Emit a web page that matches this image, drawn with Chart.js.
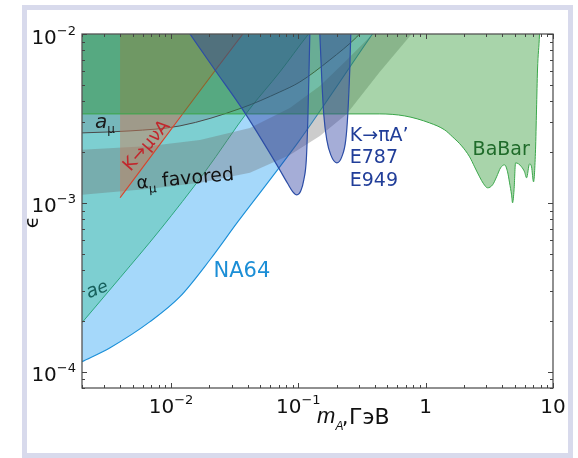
<!DOCTYPE html>
<html>
<head>
<meta charset="utf-8">
<script src="https://cdn.jsdelivr.net/npm/chart.js@4.4.1/dist/chart.umd.min.js"></script>
<style>
    html, body { margin: 0; padding: 0; background: #fff; }
    #frame { position: absolute; left: 22px; top: 5px; width: 541px; height: 443px; border: 5px solid #d8daec; }
    #limitsChart { position: absolute; left: 0; top: 0; }
</style>
</head>
<body>
<div id="frame"></div>
<canvas id="limitsChart" width="578" height="458"></canvas>
<script>
// NA64 limit (lower edge of the light blue area)
const na64Mass = [0.002, 0.003327, 0.006846, 0.01176, 0.02023, 0.03353, 0.05977, 0.1028, 0.2116, 0.3772, 0.4355];
const na64Eps  = [1.146e-4, 1.387e-4, 1.977e-4, 2.78e-4, 4.60e-4, 7.73e-4, 1.368e-3, 2.36e-3, 5.20e-3, 9.87e-3, 1.146e-2];

// a_e exclusion
const aeMass = [0.002, 0.003981, 0.0082, 0.01848, 0.0409, 0.07161, 0.1187, 0.1422];
const aeEps  = [1.95e-4, 3.60e-4, 6.92e-4, 1.526e-3, 3.55e-3, 5.96e-3, 9.87e-3, 1.162e-2];

// a_mu exclusion
const amuMass = [0.002, 0.00477, 0.01176, 0.03604, 0.07161, 0.1028, 0.1767, 0.2876, 0.3323];
const amuEps  = [2.596e-3, 2.667e-3, 2.855e-3, 3.649e-3, 4.537e-3, 5.20e-3, 7.02e-3, 9.60e-3, 1.085e-2];

// a_mu favored band, lower and upper edges
const favLowMass  = [0.002, 0.006846, 0.01689, 0.04165, 0.08577, 0.1475, 0.2401, 0.4356, 0.7765, 0.8972];
const favLowEps   = [1.115e-3, 1.21e-3, 1.313e-3, 1.505e-3, 1.923e-3, 2.49e-3, 3.362e-3, 5.96e-3, 1.0e-2, 1.146e-2];
const favHighMass = [0.002, 0.006846, 0.01689, 0.04165, 0.08577, 0.1475, 0.2316, 0.384, 0.4437];
const favHighEps  = [2.059e-3, 2.174e-3, 2.359e-3, 2.778e-3, 3.649e-3, 4.925e-3, 6.83e-3, 1.0e-2, 1.146e-2];

// K -> mu nu A
const kmuMass = [0.003981, 0.0367, 0.0417];
const kmuEps  = [1.071e-3, 1.0e-2, 1.131e-2];

// BaBar
const babarMass = [0.002, 0.4356, 0.6844, 1.075, 1.409, 1.628, 1.916, 2.214, 2.423, 2.652, 2.85, 3.064, 3.354, 3.605, 3.875, 4.165, 4.397, 4.559, 4.727, 4.813, 4.945, 5.081, 5.363, 5.661, 5.976, 6.197, 6.543, 6.783, 7.033, 7.291, 7.424, 7.557, 7.838, 7.88];
const babarEps  = [3.362e-3, 3.362e-3, 3.271e-3, 2.974e-3, 2.704e-3, 2.458e-3, 2.174e-3, 1.872e-3, 1.633e-3, 1.425e-3, 1.296e-3, 1.227e-3, 1.278e-3, 1.425e-3, 1.611e-3, 1.678e-3, 1.526e-3, 1.313e-3, 1.115e-3, 1.0e-3, 1.194e-3, 1.725e-3, 1.701e-3, 1.633e-3, 1.526e-3, 1.406e-3, 1.701e-3, 1.633e-3, 1.331e-3, 2.059e-3, 3.55e-3, 6.12e-3, 1.0e-2, 1.131e-2];

// K -> pi A' (E787 / E949), two dips
const e787aMass = [0.01311, 0.01409, 0.02214, 0.0367, 0.06782, 0.08272, 0.09055, 0.09732, 0.1046, 0.1104, 0.1155, 0.1187, 0.1209, 0.1231, 0.1238];
const e787aEps  = [1.085e-2, 1.0e-2, 6.12e-3, 3.55e-3, 1.678e-3, 1.296e-3, 1.162e-3, 1.115e-3, 1.178e-3, 1.368e-3, 1.796e-3, 3.097e-3, 5.34e-3, 1.0e-2, 1.15e-2];
const e787bMass = [0.1461, 0.1475, 0.1529, 0.1585, 0.1673, 0.1798, 0.2004, 0.2194, 0.2358, 0.2444, 0.2534, 0.2581, 0.2595];
const e787bEps  = [1.131e-2, 1.0e-2, 5.34e-3, 3.316e-3, 2.359e-3, 1.923e-3, 1.725e-3, 1.872e-3, 2.359e-3, 3.316e-3, 6.12e-3, 1.0e-2, 1.131e-2];

// axes
const xMin = 0.002, xMax = 10, yMin = 8e-5, yMax = 0.01;
const xTicks = [0.01, 0.1, 1, 10];
const xTickLabels = [["10", "−2"], ["10", "−1"], ["1", ""], ["10", ""]];
const yTicks = [1e-4, 1e-3, 1e-2];
const yTickLabels = [["10", "−4"], ["10", "−3"], ["10", "−2"]];

function toPoints(xs, ys) {
    return xs.map((x, i) => ({ x: x, y: ys[i] }));
}

const bandShape = toPoints(favLowMass, favLowEps)
    .concat(toPoints(favHighMass, favHighEps).reverse());
bandShape.push(bandShape[0]);

const font = '"DejaVu Sans", sans-serif';

// bottom layer first
const layers = [
    { data: toPoints(na64Mass, na64Eps), fill: "end", backgroundColor: "#a5d8fa", borderColor: "#1a8fd8", borderWidth: 1.1 },
    { data: toPoints(aeMass, aeEps), fill: "end", backgroundColor: "#7dcfd1", borderColor: "#2ca77e", borderWidth: 1 },
    { data: bandShape, fill: "shape", backgroundColor: "rgba(110,110,110,0.35)", borderWidth: 0, cubicInterpolationMode: "default" },
    { data: toPoints(amuMass, amuEps), fill: "end", backgroundColor: "rgba(90,90,100,0.2)", borderColor: "#4a4a4a", borderWidth: 1 },
    { data: toPoints(kmuMass, kmuEps), fill: "end", backgroundColor: "rgba(210,120,80,0.45)", borderColor: "#d9432b", borderWidth: 1.1 },
    { data: toPoints(babarMass, babarEps), fill: "end", backgroundColor: "rgba(40,149,45,0.405)", borderColor: "#3aa64a", borderWidth: 1 },
    { data: toPoints(e787aMass, e787aEps), fill: "end", backgroundColor: "rgba(40,60,160,0.42)", borderColor: "#2c4da6", borderWidth: 1.2 },
    { data: toPoints(e787bMass, e787bEps), fill: "end", backgroundColor: "rgba(40,60,160,0.42)", borderColor: "#2c4da6", borderWidth: 1.2 }
];

const datasets = layers.map((l, i) => Object.assign({
    showLine: true,
    pointRadius: 0,
    tension: 0,
    cubicInterpolationMode: "monotone",
    order: layers.length - i
}, l));

// text on the plot, anchored in data coordinates
const notes = [
    { mass: 0.002535, eps: 2.778e-3, angle: 0, align: "left", parts: [
        { text: "a", font: "italic 20px " + font, color: "#1a1a1a" },
        { text: "μ", font: "12px " + font, color: "#1a1a1a", dy: 5 }] },
    { mass: 0.0069, eps: 2.08e-3, angle: -49, align: "center", parts: [
        { text: "K→μνA", font: "18px " + font, color: "#c1272d" }] },
    { mass: 0.005412, eps: 1.21e-3, angle: -5.3, align: "left", parts: [
        { text: "α", font: "18px " + font, color: "#111" },
        { text: "μ", font: "12px " + font, color: "#111", dy: 5 },
        { text: " favored", font: "19px " + font, color: "#111" }] },
    { mass: 0.00272, eps: 2.874e-4, angle: -22, align: "center", parts: [
        { text: "a", font: "italic 19px " + font, color: "#17605c" },
        { text: "e", font: "italic 17px " + font, color: "#17605c", dy: 0 }] },
    { mass: 0.03604, eps: 3.648e-4, angle: 0, align: "center", parts: [
        { text: "NA64", font: "21px " + font, color: "#1b8ed6" }] },
    { mass: 0.2534, eps: 2.327e-3, angle: 0, align: "left", parts: [
        { text: "K→πA’", font: "19px " + font, color: "#213e99" }] },
    { mass: 0.2534, eps: 1.713e-3, angle: 0, align: "left", parts: [
        { text: "E787", font: "19px " + font, color: "#213e99" }] },
    { mass: 0.2534, eps: 1.26e-3, angle: 0, align: "left", parts: [
        { text: "E949", font: "19px " + font, color: "#213e99" }] },
    { mass: 2.337, eps: 1.923e-3, angle: 0, align: "left", parts: [
        { text: "BaBar", font: "19px " + font, color: "#1f6b2a" }] }
];

function drawRun(ctx, parts, x, y, angle, align) {
    ctx.save();
    ctx.translate(x, y);
    ctx.rotate(angle * Math.PI / 180);
    ctx.textAlign = "left";
    ctx.textBaseline = "alphabetic";
    let total = 0;
    parts.forEach(p => { ctx.font = p.font; total += ctx.measureText(p.text).width; });
    let cx = align === "center" ? -total / 2 : (align === "right" ? -total : 0);
    parts.forEach(p => {
        ctx.font = p.font;
        ctx.fillStyle = p.color || "#111";
        ctx.fillText(p.text, cx, p.dy || 0);
        cx += ctx.measureText(p.text).width;
    });
    ctx.restore();
}

const decorations = {
    id: "decorations",
    afterDatasetsDraw(chart) {
        const { ctx, chartArea: a, scales: { x, y } } = chart;
        ctx.save();

        // frame
        ctx.strokeStyle = "#555";
        ctx.lineWidth = 1.3;
        ctx.strokeRect(a.left, a.top, a.right - a.left, a.bottom - a.top);

        // inner ticks on all four sides
        ctx.lineWidth = 1;
        ctx.strokeStyle = "#444";
        ctx.beginPath();
        for (let d = 0.001; d < xMax * 1.01; d *= 10) {
            for (let m = 1; m <= 9; m++) {
                const v = m * d;
                if (v < xMin * 0.999 || v > xMax * 1.001) continue;
                const px = Math.round(x.getPixelForValue(v)) + 0.5;
                const len = m === 1 ? 5 : 3;
                ctx.moveTo(px, a.bottom); ctx.lineTo(px, a.bottom - len);
                ctx.moveTo(px, a.top); ctx.lineTo(px, a.top + len);
            }
        }
        for (let d = 1e-5; d < yMax * 1.01; d *= 10) {
            for (let m = 1; m <= 9; m++) {
                const v = m * d;
                if (v < yMin * 0.999 || v > yMax * 1.001) continue;
                const py = Math.round(y.getPixelForValue(v)) + 0.5;
                const len = m === 1 ? 5 : 3;
                ctx.moveTo(a.left, py); ctx.lineTo(a.left + len, py);
                ctx.moveTo(a.right, py); ctx.lineTo(a.right - len, py);
            }
        }
        ctx.stroke();

        // tick labels
        ctx.fillStyle = "#111";
        ctx.textBaseline = "alphabetic";
        ctx.textAlign = "left";
        xTicks.forEach((v, i) => {
            const [base, sup] = xTickLabels[i];
            ctx.font = "20px " + font;
            const wb = ctx.measureText(base).width;
            ctx.font = "13px " + font;
            const ws = sup ? ctx.measureText(sup).width : 0;
            const px = x.getPixelForValue(v);
            const left = px - (wb + ws) / 2;
            ctx.font = "20px " + font;
            ctx.fillText(base, left, a.bottom + 25);
            if (sup) { ctx.font = "13px " + font; ctx.fillText(sup, left + wb, a.bottom + 16); }
        });
        yTicks.forEach((v, i) => {
            const [base, sup] = yTickLabels[i];
            ctx.font = "20px " + font;
            const wb = ctx.measureText(base).width;
            ctx.font = "13px " + font;
            const ws = ctx.measureText(sup).width;
            const py = y.getPixelForValue(v);
            const left = a.left - 6 - ws - wb;
            ctx.font = "20px " + font;
            ctx.fillText(base, left, py + 9.5);
            ctx.font = "13px " + font;
            ctx.fillText(sup, left + wb, py + 0.5);
        });

        // axis titles
        ctx.save();
        ctx.translate(33, 222);
        ctx.rotate(-Math.PI / 2);
        ctx.font = "20px " + font;
        ctx.textAlign = "center";
        ctx.textBaseline = "middle";
        ctx.fillText("ϵ", 0, 0);
        ctx.restore();

        ctx.textAlign = "left";
        ctx.font = 'italic 22px "Liberation Sans", sans-serif';
        ctx.fillText("m", 317, 423);
        ctx.font = 'italic 12px "Liberation Sans", sans-serif';
        ctx.fillText("A’", 335.5, 430);
        ctx.font = "20px " + font;
        ctx.fillText(",", 342, 424);
        ctx.font = "22px " + font;
        ctx.fillText("ГэВ", 349, 424);

        // labels on the plot
        notes.forEach(n => {
            drawRun(ctx, n.parts, x.getPixelForValue(n.mass), y.getPixelForValue(n.eps), n.angle, n.align);
        });

        ctx.restore();
    }
};

const ctx = document.getElementById("limitsChart").getContext("2d");
const limitsChart = new Chart(ctx, {
    type: "scatter",
    data: { datasets: datasets },
    options: {
        responsive: false,
        animation: false,
        layout: { padding: { left: 82, right: 25, top: 34, bottom: 70 } },
        plugins: {
            legend: { display: false },
            tooltip: { enabled: false }
        },
        scales: {
            x: { type: "logarithmic", min: xMin, max: xMax, display: false },
            y: { type: "logarithmic", min: yMin, max: yMax, display: false }
        }
    },
    plugins: [decorations]
});
</script>
</body>
</html>
